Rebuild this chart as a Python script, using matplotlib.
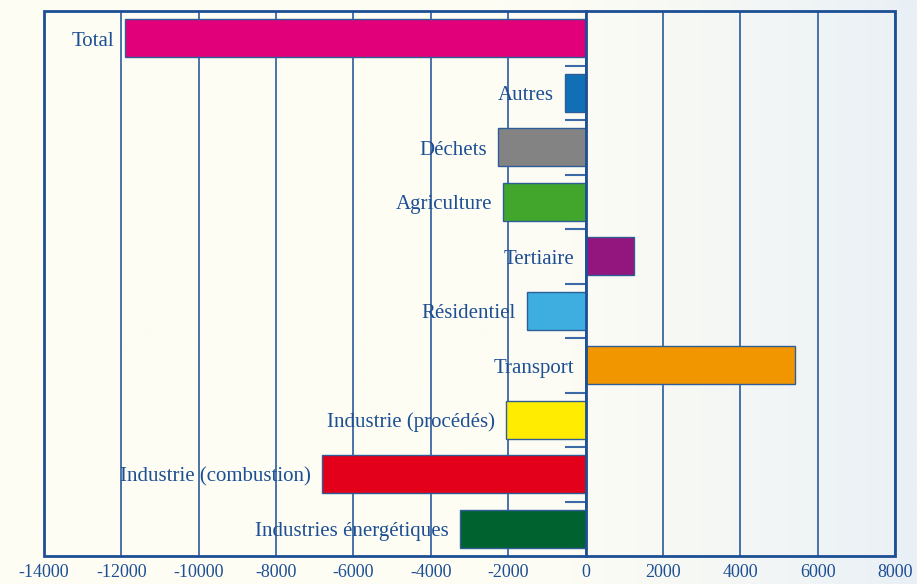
import numpy as np
import matplotlib.pyplot as plt
from matplotlib.patches import Rectangle

# Categories from top to bottom
secteurs = ['Total', 'Autres', 'Déchets', 'Agriculture', 'Tertiaire', 'Résidentiel',
            'Transport', 'Industrie (procédés)', 'Industrie (combustion)',
            'Industries énergétiques']
valeurs = [-11900, -530, -2260, -2130, 1250, -1510, 5420, -2060, -6810, -3240]
couleurs = ['#e2007a', '#1170b5', '#838383', '#43a62c', '#93167f', '#3eaee0',
            '#f29600', '#ffec00', '#e2001a', '#00622f']
xticks = np.arange(-14000, 8001, 2000)

bleu = '#1c4f94'
fig = plt.figure(figsize=(9.17, 5.84), dpi=100)

# background gradient: cream on the left, pale blue on the right
bg = fig.add_axes([0, 0, 1, 1], zorder=-10)
t = np.linspace(0, 1, 400)
w = np.clip((t - 0.55) / 0.45, 0, 1) ** 1.3
c0 = np.array([254, 253, 244]) / 255
c1 = np.array([233, 240, 246]) / 255
grad = c0[None, :] * (1 - w[:, None]) + c1[None, :] * w[:, None]
bg.imshow(grad[None, :, :], aspect='auto', extent=[0, 1, 0, 1])
bg.axis('off')

ax = fig.add_axes([44 / 917, 1 - 556 / 584, 851 / 917, 545 / 584])
ax.patch.set_alpha(0)
y = np.arange(len(secteurs))

ax.barh(y, valeurs, height=0.7, color=couleurs, edgecolor='#2e5d98', linewidth=1.0, zorder=3)

for yi, v, s in zip(y, valeurs, secteurs):
    xpos = min(v, 0)
    ax.annotate(s, (xpos, yi), xytext=(-8, -2), textcoords='offset points',
                ha='right', va='center', fontsize=15, color=bleu,
                family='Liberation Serif', zorder=4)

ax.set_xlim(-14000, 8000)
ax.set_ylim(len(secteurs) - 0.5, -0.5)
ax.set_xticks(xticks)
ax.set_xticklabels([str(v) for v in xticks], family='Liberation Serif', fontsize=13,
                   color=bleu)
ax.tick_params(axis='x', length=0, pad=6)
for xv in xticks:
    ax.axvline(xv, color='#2a5b9c', linewidth=1.2, zorder=1)

# zero axis with category separators
ax.spines['left'].set_position(('data', 0))
ax.spines['left'].set_color(bleu)
ax.spines['left'].set_linewidth(2)
ax.spines['left'].set_zorder(5)
ax.set_yticks(np.arange(0.5, len(secteurs) - 1, 1))
ax.set_yticklabels([])
ax.tick_params(axis='y', direction='out', length=15, width=1.5, color='#3d6aa6')
for sp in ['top', 'right', 'bottom']:
    ax.spines[sp].set_visible(False)
ax.add_patch(Rectangle((0, 0), 1, 1, transform=ax.transAxes, fill=False,
                       edgecolor=bleu, linewidth=2, zorder=6, clip_on=False))

fig.savefig('out.png', dpi=100)
